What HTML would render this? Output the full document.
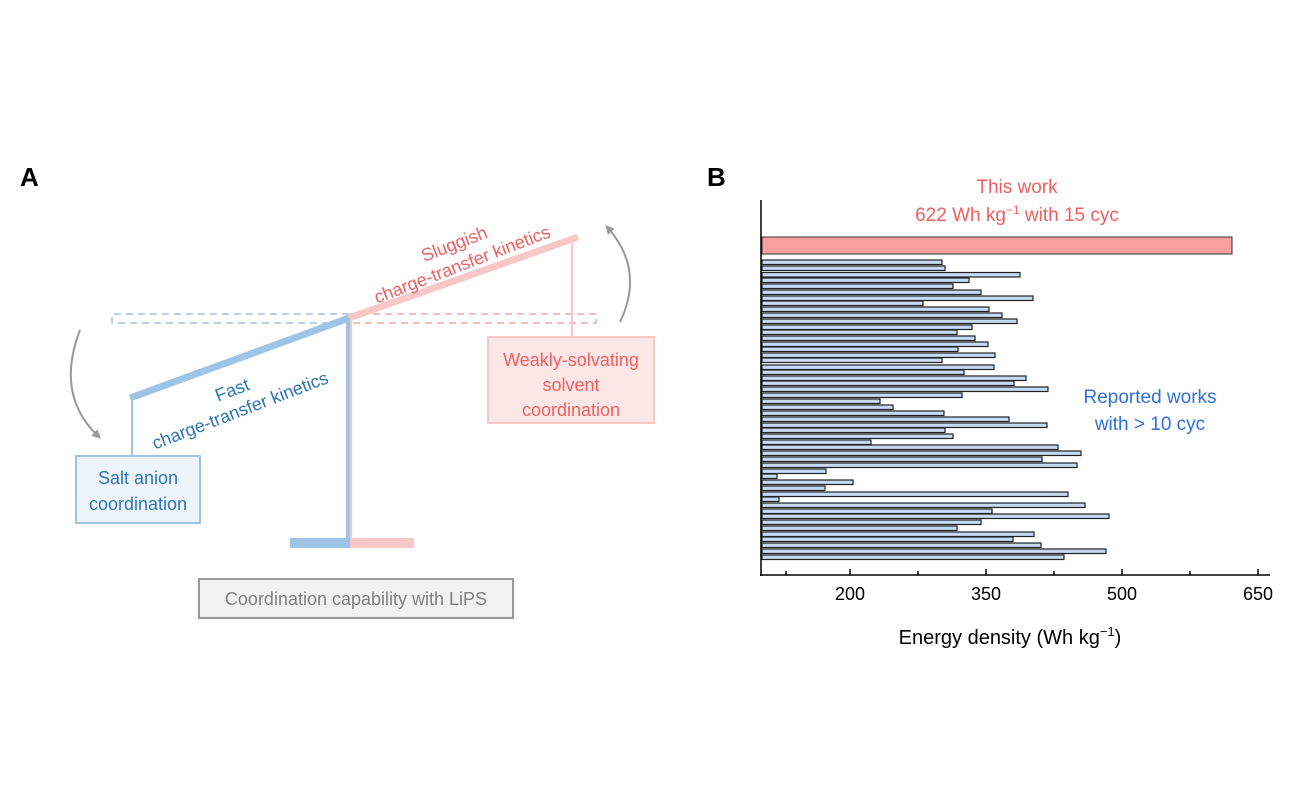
<!DOCTYPE html>
<html><head><meta charset="utf-8"><style>
body{margin:0;background:#fff;}
svg{display:block;font-family:"Liberation Sans",Arial,sans-serif;}
</style></head><body>
<svg width="1300" height="800" viewBox="0 0 1300 800" xmlns="http://www.w3.org/2000/svg">
<defs>
<marker id="ah" markerWidth="9" markerHeight="9" refX="5" refY="4.5" orient="auto" markerUnits="userSpaceOnUse">
<path d="M0,0 L9,4.5 L0,9 z" fill="#999"/></marker>
</defs>
<text x="20" y="186" font-size="26" font-weight="bold" fill="#000">A</text>
<text x="707" y="186" font-size="26" font-weight="bold" fill="#000">B</text>
<path d="M349,314 H112 V323 H349" fill="none" stroke="#9dc3e6" stroke-width="1.5" stroke-dasharray="7,5"/>
<path d="M349,314 H596 V323 H349" fill="none" stroke="#f4a6a6" stroke-width="1.5" stroke-dasharray="7,5"/>
<line x1="349" y1="318" x2="578" y2="237" stroke="#f8c8c8" stroke-width="7"/>
<line x1="572" y1="240" x2="572" y2="337" stroke="#f8c8c8" stroke-width="2"/>
<line x1="130" y1="398" x2="349" y2="318" stroke="#9dc3e6" stroke-width="7"/>
<line x1="132" y1="398" x2="132" y2="456" stroke="#9dc3e6" stroke-width="2"/>
<rect x="346" y="318" width="4" height="230" fill="#9dc3e6"/>
<rect x="350" y="318" width="2" height="230" fill="#f8c8c8"/>
<rect x="290" y="538" width="59" height="10" fill="#9dc3e6"/>
<rect x="352" y="538" width="62" height="10" fill="#f8c8c8"/>
<rect x="76" y="456" width="124" height="67" fill="#eef4fb" stroke="#9dc3e6" stroke-width="2"/>
<text x="138" y="484" font-size="18" fill="#2e75b6" text-anchor="middle">Salt anion</text>
<text x="138" y="510" font-size="18" fill="#2e75b6" text-anchor="middle">coordination</text>
<rect x="488" y="337" width="166" height="86" fill="#fde6e6" stroke="#f8c8c8" stroke-width="2"/>
<text x="571" y="366" font-size="18" fill="#f06060" text-anchor="middle">Weakly-solvating</text>
<text x="571" y="391" font-size="18" fill="#f06060" text-anchor="middle">solvent</text>
<text x="571" y="416" font-size="18" fill="#f06060" text-anchor="middle">coordination</text>
<rect x="199" y="579" width="314" height="39" fill="#f2f2f2" stroke="#999" stroke-width="2"/>
<text x="356" y="605" font-size="18" fill="#7f7f7f" text-anchor="middle">Coordination capability with LiPS</text>
<g transform="translate(243,418) rotate(-21)" font-size="18" fill="#2e75b6" text-anchor="middle">
<text x="0" y="-24">Fast</text>
<text x="0" y="-2">charge-transfer kinetics</text>
</g>
<g transform="translate(465,272) rotate(-21)" font-size="18" fill="#f06060" text-anchor="middle">
<text x="0" y="-24">Sluggish</text>
<text x="0" y="-2">charge-transfer kinetics</text>
</g>
<path d="M80,330 Q55,395 98,436" fill="none" stroke="#999" stroke-width="2" marker-end="url(#ah)"/>
<path d="M620,322 Q645,270 608,228" fill="none" stroke="#999" stroke-width="2" marker-end="url(#ah)"/>
<text x="1017" y="193" font-size="19" fill="#f06060" text-anchor="middle">This work</text>
<text x="1017" y="221" font-size="19" fill="#f06060" text-anchor="middle">622 Wh kg<tspan font-size="12" dy="-7">−1</tspan><tspan dy="7"> with 15 cyc</tspan></text>
<rect x="762" y="237" width="470" height="17" fill="#f8a0a0" stroke="#333" stroke-width="1"/>
<g fill="#c5d9f5" stroke="#222" stroke-width="1.2">
<rect x="762" y="260" width="180" height="4.5"/>
<rect x="762" y="266" width="183" height="4.5"/>
<rect x="762" y="272.5" width="258" height="4.5"/>
<rect x="762" y="278" width="207" height="4.5"/>
<rect x="762" y="284" width="191" height="4.5"/>
<rect x="762" y="290" width="219" height="4.5"/>
<rect x="762" y="296" width="271" height="4.5"/>
<rect x="762" y="301" width="161" height="4.5"/>
<rect x="762" y="307" width="227" height="4.5"/>
<rect x="762" y="313" width="240" height="4.5"/>
<rect x="762" y="319" width="255" height="4.5"/>
<rect x="762" y="325" width="210" height="4.5"/>
<rect x="762" y="330" width="195" height="4.5"/>
<rect x="762" y="336" width="213" height="4.5"/>
<rect x="762" y="342" width="226" height="4.5"/>
<rect x="762" y="347" width="196" height="4.5"/>
<rect x="762" y="353" width="233" height="4.5"/>
<rect x="762" y="358" width="180" height="4.5"/>
<rect x="762" y="365" width="232" height="4.5"/>
<rect x="762" y="370" width="202" height="4.5"/>
<rect x="762" y="376" width="264" height="4.5"/>
<rect x="762" y="381" width="252" height="4.5"/>
<rect x="762" y="387" width="286" height="4.5"/>
<rect x="762" y="393" width="200" height="4.5"/>
<rect x="762" y="399" width="118" height="4.5"/>
<rect x="762" y="405" width="131" height="4.5"/>
<rect x="762" y="411" width="182" height="4.5"/>
<rect x="762" y="417" width="247" height="4.5"/>
<rect x="762" y="423" width="285" height="4.5"/>
<rect x="762" y="428" width="183" height="4.5"/>
<rect x="762" y="434" width="191" height="4.5"/>
<rect x="762" y="440" width="109" height="4.5"/>
<rect x="762" y="445" width="296" height="4.5"/>
<rect x="762" y="451" width="319" height="4.5"/>
<rect x="762" y="457" width="280" height="4.5"/>
<rect x="762" y="463" width="315" height="4.5"/>
<rect x="762" y="469" width="64" height="4.5"/>
<rect x="762" y="474" width="15" height="4.5"/>
<rect x="762" y="480" width="91" height="4.5"/>
<rect x="762" y="486" width="63" height="4.5"/>
<rect x="762" y="492" width="306" height="4.5"/>
<rect x="762" y="497" width="17" height="4.5"/>
<rect x="762" y="503" width="323" height="4.5"/>
<rect x="762" y="509" width="230" height="4.5"/>
<rect x="762" y="514" width="347" height="4.5"/>
<rect x="762" y="520" width="219" height="4.5"/>
<rect x="762" y="526" width="195" height="4.5"/>
<rect x="762" y="532" width="272" height="4.5"/>
<rect x="762" y="537" width="251" height="4.5"/>
<rect x="762" y="543" width="279" height="4.5"/>
<rect x="762" y="549" width="344" height="4.5"/>
<rect x="762" y="555" width="302" height="4.5"/>
</g>
<text x="1150" y="403" font-size="19" fill="#2f6fe0" text-anchor="middle">Reported works</text>
<text x="1150" y="430" font-size="19" fill="#2f6fe0" text-anchor="middle">with &gt; 10 cyc</text>
<line x1="761" y1="200" x2="761" y2="576" stroke="#000" stroke-width="1.5"/>
<line x1="760" y1="575" x2="1270" y2="575" stroke="#000" stroke-width="1.5"/>
<g stroke="#000" stroke-width="1.5">
<line x1="786" y1="575" x2="786" y2="571"/>
<line x1="850" y1="575" x2="850" y2="569"/>
<line x1="918" y1="575" x2="918" y2="571"/>
<line x1="986" y1="575" x2="986" y2="569"/>
<line x1="1054" y1="575" x2="1054" y2="571"/>
<line x1="1122" y1="575" x2="1122" y2="569"/>
<line x1="1190" y1="575" x2="1190" y2="571"/>
<line x1="1258" y1="575" x2="1258" y2="569"/>
</g>
<g font-size="18" fill="#000" text-anchor="middle">
<text x="850" y="600">200</text>
<text x="986" y="600">350</text>
<text x="1122" y="600">500</text>
<text x="1258" y="600">650</text>
</g>
<text x="1010" y="644" font-size="20" fill="#000" text-anchor="middle">Energy density (Wh kg<tspan font-size="13" dy="-8">−1</tspan><tspan dy="8">)</tspan></text>
</svg>
</body></html>
